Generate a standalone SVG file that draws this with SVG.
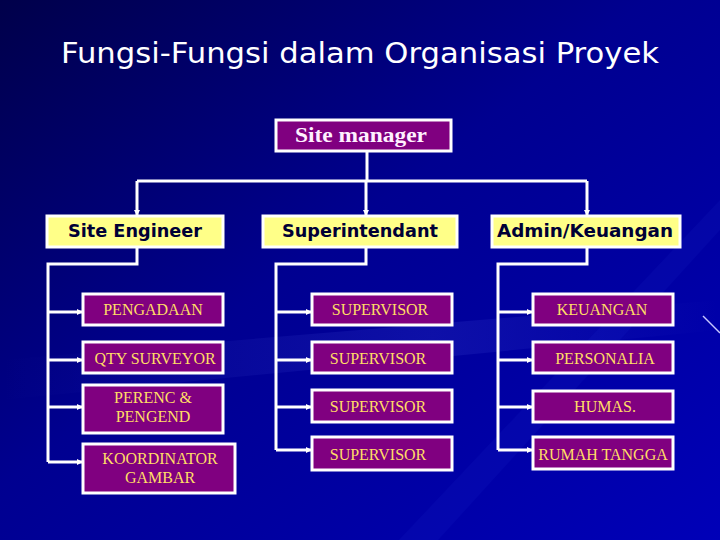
<svg xmlns="http://www.w3.org/2000/svg" width="720" height="540" viewBox="0 0 720 540">
<defs>
<linearGradient id="bg" x1="0" y1="0" x2="1" y2="1">
<stop offset="0" stop-color="#00004a"/>
<stop offset="0.45" stop-color="#000090"/>
<stop offset="1" stop-color="#0000b8"/>
</linearGradient>
<linearGradient id="streak" x1="0" y1="0" x2="1" y2="0">
<stop offset="0" stop-color="#6f7fff" stop-opacity="0"/>
<stop offset="0.6" stop-color="#6f7fff" stop-opacity="0.25"/>
<stop offset="1" stop-color="#6f7fff" stop-opacity="0"/>
</linearGradient>
<marker id="ah" viewBox="0 0 6 6" refX="5" refY="3" markerWidth="6" markerHeight="6" markerUnits="userSpaceOnUse" orient="auto">
<path d="M0,0 L6,3 L0,6 z" fill="#ffffff"/>
</marker>
</defs>
<style>
.head rect{fill:#ffff88;stroke:#ffffff;stroke-width:3}
.head text{font-family:"DejaVu Sans",Verdana,sans-serif;font-weight:bold;font-size:17px;fill:#000035;text-anchor:middle}
.sub rect{fill:#800080;stroke:#ffffff;stroke-width:3}
.sub text{font-family:"Liberation Serif","Times New Roman",serif;font-size:16px;fill:#ffdd66;text-anchor:middle}
.conn path{fill:none;stroke:#ffffff;stroke-width:3}
.arr{marker-end:url(#ah)}
</style>
<rect x="0" y="0" width="720" height="540" fill="url(#bg)"/>
<path d="M0,360 L720,300 L720,330 L0,400 z" fill="url(#streak)" opacity="0.5"/>
<path d="M380,560 L720,200 L720,230 L420,560 z" fill="#3f5fff" opacity="0.06"/>
<line x1="703" y1="316" x2="720" y2="333" stroke="#c8c8ff" stroke-width="1.5"/>
<text x="360" y="63" font-family="'Comic Sans MS','DejaVu Sans',sans-serif" font-size="28" fill="#ffffff" text-anchor="middle" textLength="598" lengthAdjust="spacingAndGlyphs">Fungsi-Fungsi dalam Organisasi Proyek</text>

<g id="connectors" class="conn">
<path d="M367,152 V181"/>
<path d="M137,181 H587"/>
<path class="arr" d="M137,181 V215"/>
<path class="arr" d="M366,181 V215"/>
<path class="arr" d="M587,181 V215"/>
<path d="M137,247 V264 H48 V462"/>
<path class="arr" d="M48,312 H82"/>
<path class="arr" d="M48,360 H82"/>
<path class="arr" d="M48,407 H82"/>
<path class="arr" d="M48,462 H82"/>
<path d="M366,247 V264 H276 V450"/>
<path class="arr" d="M276,312 H311"/>
<path class="arr" d="M276,360 H311"/>
<path class="arr" d="M276,407 H311"/>
<path class="arr" d="M276,450 H311"/>
<path d="M587,247 V264 H498 V450"/>
<path class="arr" d="M498,312 H532"/>
<path class="arr" d="M498,360 H532"/>
<path class="arr" d="M498,407 H532"/>
<path class="arr" d="M498,450 H532"/>
</g>

<g id="site-manager" class="sub">
<rect x="276" y="120" width="175" height="31"/>
<text x="361" y="142" style="fill:#fff0ff;font-size:22px;font-weight:bold" textLength="132" lengthAdjust="spacingAndGlyphs">Site manager</text>
</g>

<g id="site-engineer" class="head"><rect x="47" y="216" width="176" height="31"/><text x="135" y="237" textLength="134" lengthAdjust="spacingAndGlyphs">Site Engineer</text></g>
<g id="superintendant" class="head"><rect x="263" y="216" width="194" height="31"/><text x="360" y="237" textLength="156" lengthAdjust="spacingAndGlyphs">Superintendant</text></g>
<g id="admin-keuangan" class="head"><rect x="492" y="216" width="188" height="31"/><text x="585" y="237" textLength="176" lengthAdjust="spacingAndGlyphs">Admin/Keuangan</text></g>

<g id="pengadaan" class="sub"><rect x="83" y="294" width="140" height="31"/><text x="153" y="315">PENGADAAN</text></g>
<g id="qty-surveyor" class="sub"><rect x="83" y="342" width="140" height="31"/><text x="155" y="364">QTY SURVEYOR</text></g>
<g id="perenc-pengend" class="sub"><rect x="83" y="385" width="140" height="48"/><text x="153" y="403">PERENC &amp;</text><text x="153" y="422">PENGEND</text></g>
<g id="koordinator-gambar" class="sub"><rect x="83" y="444" width="152" height="49"/><text x="160" y="464">KOORDINATOR</text><text x="160" y="483">GAMBAR</text></g>

<g id="supervisor-1" class="sub"><rect x="312" y="294" width="140" height="31"/><text x="380" y="315">SUPERVISOR</text></g>
<g id="supervisor-2" class="sub"><rect x="312" y="342" width="140" height="31"/><text x="378" y="364">SUPERVISOR</text></g>
<g id="supervisor-3" class="sub"><rect x="312" y="390" width="140" height="32"/><text x="378" y="412">SUPERVISOR</text></g>
<g id="supervisor-4" class="sub"><rect x="312" y="437" width="140" height="33"/><text x="378" y="460">SUPERVISOR</text></g>

<g id="keuangan" class="sub"><rect x="533" y="294" width="140" height="31"/><text x="602" y="315">KEUANGAN</text></g>
<g id="personalia" class="sub"><rect x="533" y="342" width="140" height="31"/><text x="605" y="364">PERSONALIA</text></g>
<g id="humas" class="sub"><rect x="533" y="391" width="140" height="31"/><text x="605" y="412">HUMAS.</text></g>
<g id="rumah-tangga" class="sub"><rect x="533" y="437" width="140" height="32"/><text x="603" y="460">RUMAH TANGGA</text></g>
</svg>
